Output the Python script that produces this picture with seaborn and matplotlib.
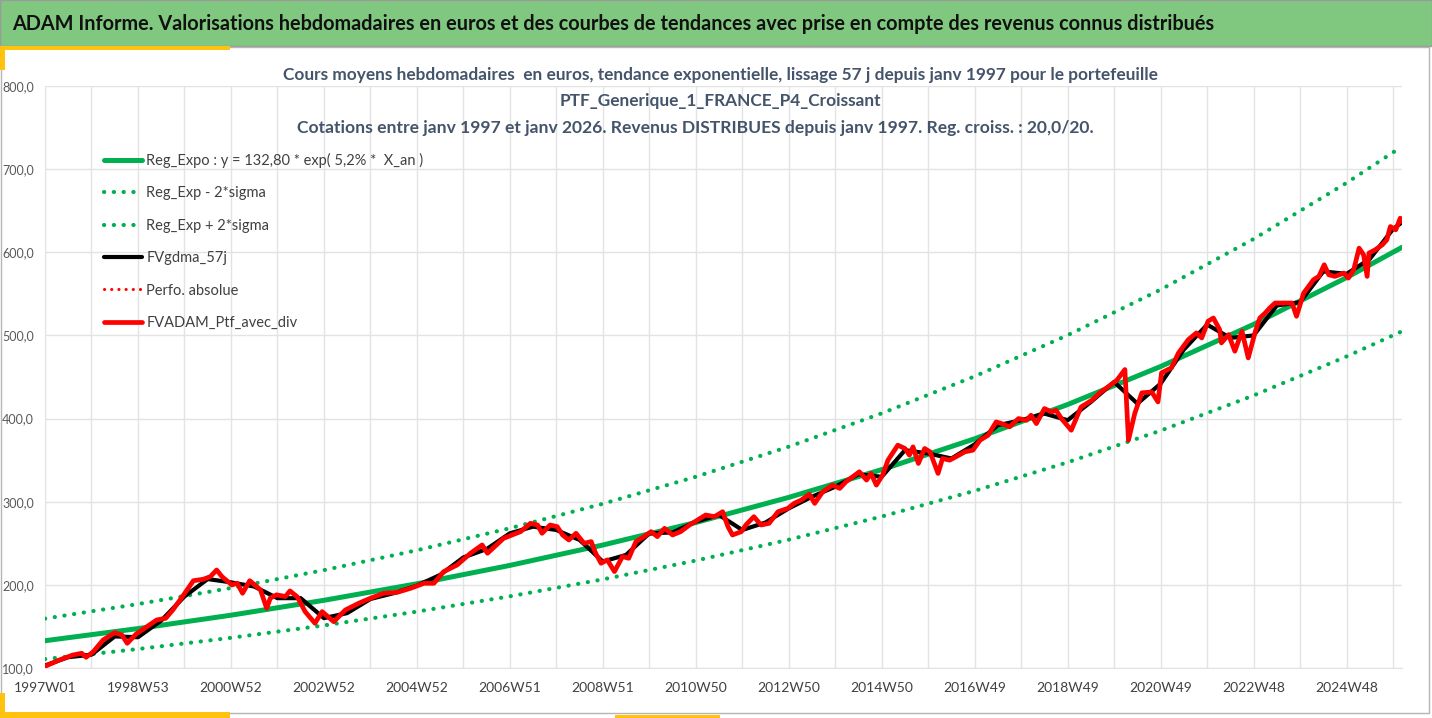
import matplotlib
matplotlib.use("Agg")
import pandas as pd
import matplotlib.pyplot as plt
import seaborn as sns
from matplotlib.patches import Rectangle

# ---- data ----
tick_idx = [0, 104, 208, 312, 416, 520, 624, 728, 832, 936, 1040, 1144, 1248, 1352, 1456]
tick_labels = ["1997W01", "1998W53", "2000W52", "2002W52", "2004W52", "2006W51", "2008W51",
               "2010W50", "2012W50", "2014W50", "2016W49", "2018W49", "2020W49", "2022W48", "2024W48"]

trend_idx = [0, 104, 208, 312, 416, 520, 624, 728, 832, 936, 1040, 1144, 1248, 1352, 1456, 1518]
trend_vals = [132.8, 147.4, 163.5, 181.4, 201.3, 223.4, 247.9, 275.0, 305.2, 338.6, 375.7,
              416.9, 462.6, 513.3, 569.6, 606.0]
upper_vals = [159.4, 176.9, 196.2, 217.7, 241.6, 268.1, 297.5, 330.0, 366.2, 406.3, 450.8,
              500.3, 555.1, 616.0, 683.5, 727.2]
lower_vals = [110.7, 122.8, 136.3, 151.2, 167.8, 186.2, 206.6, 229.2, 254.3, 282.2, 313.1,
              347.4, 385.5, 427.8, 474.7, 505.0]

gdma_idx = [0, 26, 52, 78, 104, 130, 156, 182, 208, 234, 260, 286, 312, 338, 364, 390, 416,
            442, 468, 494, 520, 546, 572, 598, 624, 650, 676, 702, 728, 754, 780, 806, 832,
            858, 884, 910, 936, 962, 988, 1014, 1040, 1066, 1092, 1118, 1144, 1170, 1196,
            1222, 1248, 1274, 1300, 1326, 1352, 1378, 1404, 1430, 1456, 1482, 1508, 1518]
gdma_vals = [103, 113, 116, 138, 137, 157, 186, 207, 203, 198, 184, 184, 160, 166, 183, 190,
             199, 212, 233, 243, 262, 270, 266, 254, 228, 236, 262, 263, 276, 284, 266, 275,
             292, 306, 318, 333, 330, 362, 358, 352, 369, 392, 398, 406, 398, 420, 444, 418,
             442, 483, 513, 497, 500, 536, 540, 577, 574, 592, 628, 636]

ptf_idx = [0, 16, 31, 41, 46, 54, 65, 78, 86, 92, 102, 114, 125, 135, 143, 155, 166, 177,
           185, 192, 198, 209, 215, 221, 229, 241, 248, 252, 259, 269, 274, 282, 285, 291,
           302, 310, 323, 336, 351, 364, 379, 394, 409, 424, 435, 446, 461, 476, 489, 495,
           513, 532, 543, 551, 556, 565, 573, 579, 586, 594, 603, 611, 616, 622, 629, 637,
           646, 653, 661, 670, 678, 685, 693, 702, 711, 721, 730, 739, 749, 758, 764, 769,
           779, 784, 793, 801, 810, 820, 831, 838, 846, 855, 861, 870, 881, 889, 896, 911,
           919, 924, 930, 937, 943, 954, 962, 967, 971, 977, 984, 990, 999, 1004, 1012, 1019,
           1029, 1038, 1046, 1055, 1064, 1070, 1079, 1089, 1098, 1103, 1109, 1118, 1126, 1131,
           1137, 1148, 1159, 1171, 1180, 1189, 1199, 1208, 1212, 1219, 1227, 1238, 1245, 1249,
           1260, 1268, 1279, 1288, 1294, 1301, 1307, 1314, 1316, 1324, 1331, 1339, 1346, 1354,
           1359, 1365, 1370, 1376, 1387, 1395, 1400, 1408, 1419, 1425, 1431, 1436, 1443, 1453,
           1458, 1464, 1470, 1475, 1479, 1481, 1488, 1496, 1501, 1505, 1511, 1516, 1518]
ptf_vals = [102, 109.6, 115.6, 117.7, 112.9, 119.6, 133.7, 142.5, 139.7, 129.7, 140.9, 149.7,
            157.8, 159.8, 169.8, 187.8, 205, 206.7, 209.9, 217.9, 209.9, 199.9, 201.9, 189.9,
            205, 194, 171.8, 184, 188, 186, 192.7, 185.8, 180, 167.8, 153.8, 167.8, 155.7,
            169.8, 177.9, 183.9, 189.9, 191, 195.9, 201.9, 201.9, 215.9, 223.9, 238, 248, 238,
            256, 264, 274, 272, 262, 272, 270, 260, 254, 262, 250, 252, 238, 226, 230, 216,
            234, 232, 252, 258, 264, 258, 268, 260, 264, 272, 278, 284, 282, 288, 270, 260,
            264, 272, 282, 272, 274, 288, 292, 298, 302, 309, 298, 312, 320, 316, 324, 336,
            326, 334, 320, 332, 350, 368, 364, 356, 366, 346, 364, 360, 334, 352, 350, 354,
            360, 362, 374, 380, 396, 394, 390, 400, 398, 404, 394, 412, 408, 410,
            400, 386, 414, 422, 431, 438, 446, 459, 374, 406, 431, 432, 420, 455,
            461, 479, 495, 503, 497, 517, 521, 507, 491, 501, 481, 505, 473, 505,
            521, 527, 533, 539, 539, 539, 523, 551, 567, 571, 585, 573, 571, 575,
            569, 579, 605, 597, 571, 599, 603, 609, 615, 631, 627, 641, 637]

lbl_trend = "Reg_Expo : y = 132,80 * exp( 5,2% *  X_an )"
lbl_low = "Reg_Exp - 2*sigma"
lbl_up = "Reg_Exp + 2*sigma"
lbl_gdma = "FVgdma_57j"
lbl_perf = "Perfo. absolue"
lbl_ptf = "FVADAM_Ptf_avec_div"

title = ("ADAM Informe. Valorisations hebdomadaires en euros et des courbes de tendances "
         "avec prise en compte des revenus connus distribués")
sub1 = ("Cours moyens hebdomadaires  en euros, tendance exponentielle, lissage 57 j depuis "
        "janv 1997 pour le portefeuille")
sub2 = "PTF_Generique_1_FRANCE_P4_Croissant"
sub3 = ("Cotations entre janv 1997 et janv 2026. Revenus DISTRIBUES depuis janv 1997. "
        "Reg. croiss. : 20,0/20.")

# ---- frames ----
trend_df = pd.DataFrame({"semaine": trend_idx, "reg": trend_vals,
                         "haut": upper_vals, "bas": lower_vals})
gdma_df = pd.DataFrame({"semaine": gdma_idx, "valeur": gdma_vals})
ptf_df = pd.DataFrame({"semaine": ptf_idx, "valeur": ptf_vals})

sns.set_style("white")
plt.rcParams["font.family"] = ["Lato", "DejaVu Sans"]

W, H = 1432, 718
fig = plt.figure(figsize=(W / 100, H / 100), dpi=100)
fig.patch.set_facecolor("white")

# title bar and frame decorations
fig.patches.append(Rectangle((0, 1 - 46 / H), 1, 46 / H, transform=fig.transFigure,
                             facecolor="#80c880", edgecolor="#9a9a9a", lw=1, zorder=0))
fig.patches.append(Rectangle((1 / W, 5 / H), 1428 / W, (H - 52) / H, transform=fig.transFigure,
                             facecolor="none", edgecolor="#b5b5b5", lw=1, zorder=0))
for (x0, y0, w, h) in [(0, 46, 230, 4), (0, 46, 5, 24), (0, 712, 230, 6), (0, 693, 5, 25),
                       (615, 715, 105, 3)]:
    fig.patches.append(Rectangle((x0 / W, 1 - (y0 + h) / H), w / W, h / H,
                                 transform=fig.transFigure, facecolor="#ffc20e",
                                 edgecolor="none", zorder=1))

fig.text(12 / W, 1 - 24 / H, title, fontsize=14.3, fontweight="bold", color="#111111",
         ha="left", va="center")
sub_color = "#44546a"
fig.text(720 / W, 1 - 75 / H, sub1, fontsize=12.4, fontweight="bold", color=sub_color,
         ha="center", va="center")
fig.text(720 / W, 1 - 101 / H, sub2, fontsize=12.4, fontweight="bold", color=sub_color,
         ha="center", va="center")
fig.text(695 / W, 1 - 128 / H, sub3, fontsize=12.6, fontweight="bold", color=sub_color,
         ha="center", va="center")

ax = fig.add_axes([45 / W, 1 - 668 / H, (1402 - 45) / W, (668 - 86) / H])
ax.set_facecolor("none")

green = "#00b050"
dot = (0, (0.05, 2.3))
sns.lineplot(data=trend_df, x="semaine", y="reg", color=green, lw=3.6, ax=ax,
             label=lbl_trend, zorder=3)
sns.lineplot(data=trend_df, x="semaine", y="bas", color=green, lw=3, ax=ax,
             linestyle=dot, dash_capstyle="round", label=lbl_low, zorder=3)
sns.lineplot(data=trend_df, x="semaine", y="haut", color=green, lw=3, ax=ax,
             linestyle=dot, dash_capstyle="round", label=lbl_up, zorder=3)
sns.lineplot(data=gdma_df, x="semaine", y="valeur", color="black", lw=3, ax=ax,
             label=lbl_gdma, zorder=4)
sns.lineplot(data=ptf_df, x="semaine", y="valeur", color="red", lw=2.2, ax=ax,
             linestyle=dot, dash_capstyle="round", label=lbl_perf, zorder=5)
sns.lineplot(data=ptf_df, x="semaine", y="valeur", color="red", lw=3.4, ax=ax,
             label=lbl_ptf, zorder=6)

ax.set_xlim(0, 1518)
ax.set_ylim(100, 800)
ax.set_xticks(tick_idx)
ax.set_xticklabels(tick_labels)
ax.set_xticks([i + 52 for i in tick_idx], minor=True)
ax.set_yticks(range(100, 801, 100))
ax.set_yticklabels([f"{v},0" for v in range(100, 801, 100)])
ax.set_xlabel("")
ax.set_ylabel("")
ax.grid(True, which="both", color="#e3e3e3", lw=1)
ax.set_axisbelow(True)
for s in ["top", "right"]:
    ax.spines[s].set_visible(False)
for s in ["left", "bottom"]:
    ax.spines[s].set_color("#e3e3e3")
ax.tick_params(axis="x", which="both", length=4, color="#e3e3e3", labelsize=10,
               labelcolor="#404040", pad=6)
ax.tick_params(axis="y", length=0, labelsize=9, labelcolor="#595959", pad=8)

ax.legend(loc="upper left", bbox_to_anchor=(104 / W, 1 - 153 / H),
          bbox_transform=fig.transFigure, frameon=False, fontsize=10.5,
          labelspacing=1.26, handlelength=2.6, handletextpad=0.3, borderpad=0,
          borderaxespad=0, labelcolor="#404040")

fig.savefig("out.png", dpi=100)
